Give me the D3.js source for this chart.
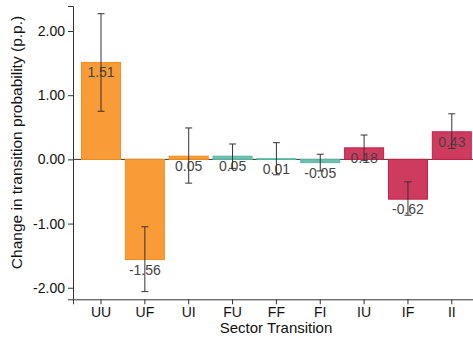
<!DOCTYPE html>
<html><head><meta charset="utf-8">
<script src="https://cdn.jsdelivr.net/npm/d3@7"></script>
<style>body{margin:0;background:#fff}svg{display:block;font-family:"Liberation Sans",Arial,sans-serif}</style>
</head><body><svg id="c" width="473" height="338"></svg>
<script>
const categories = ["UU","UF","UI","FU","FF","FI","IU","IF","II"];
const values = [1.51,-1.56,0.05,0.05,0.01,-0.05,0.18,-0.62,0.43];
const errLow = [0.75,-2.06,-0.37,-0.14,-0.24,-0.18,-0.02,-0.87,0.17];
const errHigh = [2.27,-1.05,0.49,0.24,0.26,0.08,0.38,-0.35,0.71];
const groups = ["U","U","U","F","F","F","I","I","I"];
const yTicks = [-2,-1,0,1,2];

const fills = {U:"#f99b36", F:"#6dbfaf", I:"#cf3a5f"};
const strokes = {U:"#f68e1c", F:"#5cb8a5", I:"#c52049"};
const fmt = v => v.toFixed(2);

const svg = d3.select("#c");
const x = d3.scaleBand().domain(categories).range([73,473]).paddingInner(0.088).paddingOuter(0.105).align(0.87);
const y = d3.scaleLinear().domain([-2.18,2.39]).range([299.3,6]);

// zero line
svg.append("line").attr("x1",73).attr("x2",473).attr("y1",y(0)).attr("y2",y(0)).attr("stroke","#333").attr("stroke-width",1);

const data = categories.map((c,i)=>({c,v:values[i],lo:errLow[i],hi:errHigh[i],g:groups[i]}));

svg.selectAll("rect.bar").data(data).enter().append("rect")
  .attr("x",d=>x(d.c)+0.5).attr("width",x.bandwidth()-1)
  .attr("y",d=>Math.min(y(d.v),y(0))).attr("height",d=>Math.abs(y(d.v)-y(0)))
  .attr("fill",d=>fills[d.g]).attr("stroke",d=>strokes[d.g]).attr("stroke-width",1);

svg.selectAll("text.lbl").data(data).enter().append("text")
  .attr("x",d=>x(d.c)+x.bandwidth()/2).attr("y",d=>y(d.v)+15)
  .attr("text-anchor","middle").attr("font-size",14).attr("fill","#444")
  .text(d=>fmt(d.v));

const eb = svg.selectAll("g.eb").data(data).enter().append("g").attr("stroke","#333").attr("stroke-width",1);
eb.append("line").attr("x1",d=>x(d.c)+x.bandwidth()/2).attr("x2",d=>x(d.c)+x.bandwidth()/2).attr("y1",d=>y(d.lo)).attr("y2",d=>y(d.hi));
eb.append("line").attr("x1",d=>x(d.c)+x.bandwidth()/2-3.5).attr("x2",d=>x(d.c)+x.bandwidth()/2+3.5).attr("y1",d=>y(d.lo)).attr("y2",d=>y(d.lo));
eb.append("line").attr("x1",d=>x(d.c)+x.bandwidth()/2-3.5).attr("x2",d=>x(d.c)+x.bandwidth()/2+3.5).attr("y1",d=>y(d.hi)).attr("y2",d=>y(d.hi));

// axes
const yAxis = svg.append("g").attr("transform","translate(73,0)")
  .call(d3.axisLeft(y).tickValues(yTicks).tickFormat(fmt).tickSizeOuter(0).tickSize(5));
const xAxis = svg.append("g").attr("transform","translate(0,299.3)")
  .call(d3.axisBottom(x).tickSizeOuter(0).tickSize(5));
[yAxis,xAxis].forEach(a=>{
  a.selectAll("path,line").attr("stroke","#333");
  a.selectAll("text").attr("font-size",14).attr("fill","#111").attr("font-family","Liberation Sans, Arial, sans-serif");
});
yAxis.selectAll("text").attr("x",-8);
xAxis.selectAll("text").attr("y",8);

svg.append("text").attr("x",276).attr("y",333).attr("text-anchor","middle").attr("font-size",15).attr("fill","#111").text("Sector Transition");
svg.append("text").attr("transform","translate(22,142.5) rotate(-90)").attr("text-anchor","middle").attr("font-size",15.5).attr("fill","#111").text("Change in transition probability (p.p.)");
</script></body></html>
